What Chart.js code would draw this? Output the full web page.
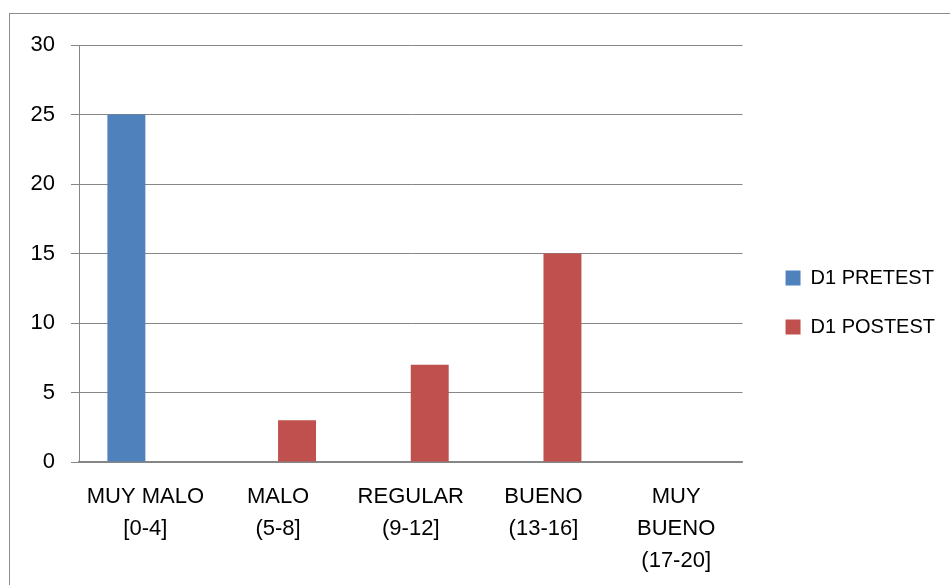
<!DOCTYPE html>
<html>
<head>
<meta charset="utf-8">
<script src="https://cdn.jsdelivr.net/npm/chart.js@4.4.1/dist/chart.umd.min.js"></script>
<style>
  html, body { margin: 0; padding: 0; background: #fff; }
  #wrap { position: relative; width: 950px; height: 585px; overflow: hidden; }
  #frame {
    position: absolute; left: 9px; top: 13px; width: 1000px; height: 700px;
    border-left: 1.5px solid #8c8c8c; border-top: 1.5px solid #8c8c8c;
  }
  #chartD1 { position: absolute; left: 0; top: 0; }
</style>
</head>
<body>
<div id="wrap">
  <div id="frame"></div>
  <canvas id="chartD1" width="950" height="585"></canvas>
</div>
<script>
// categorias (eje x)
const categorias = [
  ['MUY MALO', '[0-4]'],
  ['MALO', '(5-8]'],
  ['REGULAR', '(9-12]'],
  ['BUENO', '(13-16]'],
  ['MUY', 'BUENO', '(17-20]']
];
const pretest = [25, 0, 0, 0, 0];
const postest = [0, 3, 7, 15, 0];
const yTicks = [0, 5, 10, 15, 20, 25, 30];

const fuente = 'Liberation Sans';
const gris = '#868686';

const data = {
  labels: categorias,
  datasets: [{
    label: 'D1 PRETEST',
    data: pretest,
    backgroundColor: '#4F81BD'
  }, {
    label: 'D1 POSTEST',
    data: postest,
    backgroundColor: '#C0504D'
  }]
};

const config = {
  type: 'bar',
  data: data,
  options: {
    responsive: false,
    animation: false,
    devicePixelRatio: 1,
    categoryPercentage: 0.572,
    barPercentage: 1,
    layout: {
      padding: { top: 20, bottom: 0, left: 0, right: 5 }
    },
    plugins: {
      // titulo vacio, solo baja el area del grafico sin mover la leyenda
      title: {
        display: true,
        text: ' ',
        fullSize: false,
        font: { size: 10, lineHeight: 1 },
        padding: { top: 0, bottom: 15 }
      },
      legend: {
        display: true,
        position: 'right',
        maxWidth: 300,
        labels: {
          boxWidth: 15,
          boxHeight: 15,
          padding: 29,
          color: '#000',
          font: { family: fuente, size: 20 }
        }
      },
      tooltip: { enabled: false }
    },
    scales: {
      x: {
        grid: { display: false, drawTicks: false },
        border: { display: true, color: gris, width: 1.5 },
        ticks: {
          color: '#000',
          padding: 19,
          maxRotation: 0,
          autoSkip: false,
          font: { family: fuente, size: 22, lineHeight: 1.45 }
        },
        afterFit: function (scale) { scale.height = 585 - 462; }
      },
      y: {
        min: yTicks[0],
        max: yTicks[yTicks.length - 1],
        afterBuildTicks: function (scale) {
          scale.ticks = yTicks.map(v => ({ value: v }));
        },
        grid: { color: gris, lineWidth: 1, tickLength: 8 },
        border: { display: true, color: gris, width: 1 },
        ticks: {
          color: '#000',
          padding: 16,
          font: { family: fuente, size: 22 }
        },
        afterFit: function (scale) { scale.width = 79; }
      },
      // hueco entre el grafico y la leyenda
      hueco: {
        type: 'linear',
        position: 'right',
        display: true,
        grid: { display: false },
        border: { display: false },
        ticks: { display: false },
        afterFit: function (scale) { scale.width = 14; }
      }
    }
  }
};

const node = document.getElementById('chartD1');
var chartD1 = new Chart(node, config);
</script>
</body>
</html>
